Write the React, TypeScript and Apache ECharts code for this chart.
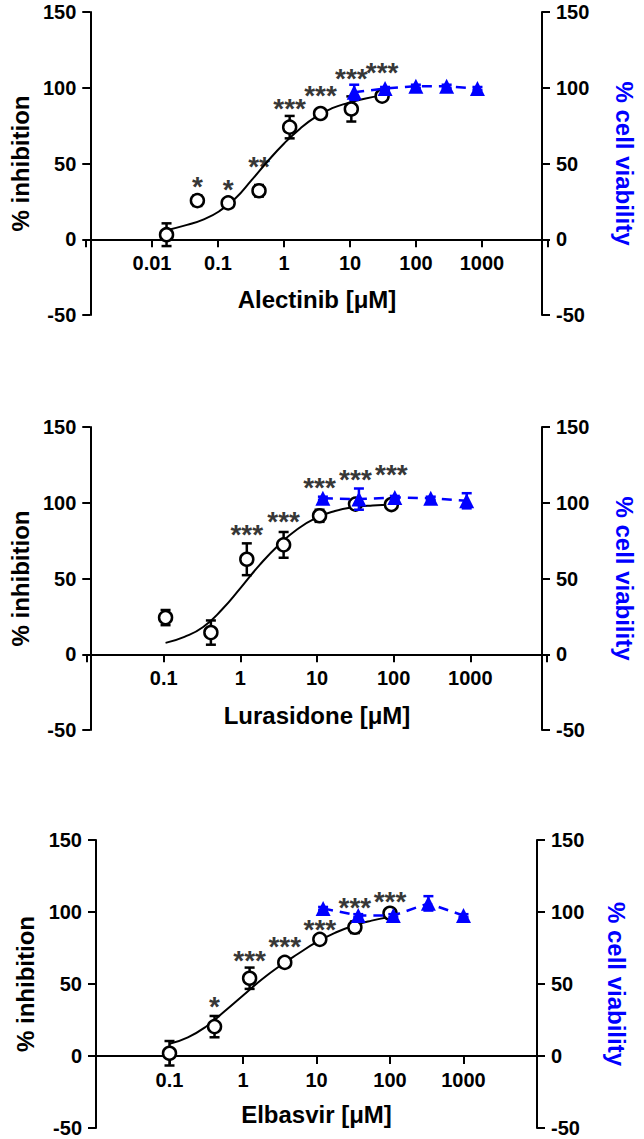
import React, { useEffect, useRef } from "react";
import * as echarts from "echarts";

// ---------- Alectinib ----------
const alectinibConc = [0.0152, 0.0457, 0.137, 0.412, 1.23, 3.7, 11.1, 33.3];
const alectinibInhibition = [3, 25.5, 24, 32, 74, 83, 86, 94.5];
const alectinibInhibitionErr = [7.5, 3.5, 2, 3.8, 7.4, 2, 8.3, 2];
const alectinibStars = ["", "*", "*", "**", "***", "***", "***", "***"];
const alectinibStarLevel = [0, 39.5, 37.5, 52.8, 91, 99.6, 111, 114.8];
const alectinibViabilityConc = [12.3, 37, 111, 333, 1000];
const alectinibViability = [97, 99.5, 101, 101, 99.5];
const alectinibViabilityErr = [5, 1, 1, 1, 1];
const alectinibFitConc = [0.0152, 0.0316, 0.0562, 0.1, 0.178, 0.316, 0.562, 1, 1.78, 3.16, 5.62, 10, 17.8, 33.3];
const alectinibFitValue = [6, 9.5, 13, 18.5, 27, 39, 51.5, 63, 73, 81, 86.5, 90, 92.8, 94.8];
const alectinibTicks = ["0.01", "0.1", "1", "10", "100", "1000"];

// ---------- Lurasidone ----------
const lurasidoneConc = [0.1, 0.4, 1.2, 3.7, 11.1, 33.3, 100];
const lurasidoneInhibition = [24.2, 14.3, 62.7, 72.2, 91.4, 99.1, 98.8];
const lurasidoneInhibitionErr = [5, 8, 10.5, 8.5, 4, 1.5, 1.5];
const lurasidoneStars = ["", "", "***", "***", "***", "***", "***"];
const lurasidoneStarLevel = [0, 0, 83.7, 92.5, 114.5, 120, 123];
const lurasidoneViabilityConc = [12.3, 37, 111, 333, 1000];
const lurasidoneViability = [103, 102.4, 103.5, 103, 101.3];
const lurasidoneViabilityErr = [1, 7, 1, 1, 5];
const lurasidoneFitConc = [0.1, 0.178, 0.316, 0.562, 1, 1.78, 3.16, 5.62, 10, 17.8, 31.6, 56.2, 100];
const lurasidoneFitValue = [7.5, 11.5, 18, 29.5, 44, 59, 72, 82.5, 90, 94.5, 97, 98.2, 98.7];
const lurasidoneTicks = ["0.1", "1", "10", "100", "1000"];

// ---------- Elbasvir ----------
const elbasvirConc = [0.1, 0.41, 1.23, 3.7, 11.1, 33.3, 100];
const elbasvirInhibition = [1.9, 20.4, 54, 65, 81, 89.4, 99.1];
const elbasvirInhibitionErr = [8.5, 7.4, 7.4, 1.5, 1.5, 4, 1];
const elbasvirStars = ["", "*", "***", "***", "***", "***", "***"];
const elbasvirStarLevel = [0, 38.9, 71.3, 81, 92.6, 108.3, 112.5];
const elbasvirViabilityConc = [12.3, 37, 111, 333, 1000];
const elbasvirViability = [102.5, 97.5, 97.5, 106, 97.5];
const elbasvirViabilityErr = [1, 1, 1, 5, 1];
const elbasvirFitConc = [0.1, 0.178, 0.316, 0.562, 1, 1.78, 3.16, 5.62, 10, 17.8, 31.6, 56.2, 100];
const elbasvirFitValue = [8.5, 13, 20.5, 31, 42, 53, 62.5, 71, 79, 85.5, 90.5, 94, 96.5];
const elbasvirTicks = ["0.1", "1", "10", "100", "1000"];

const xNames = ["Alectinib [μM]", "Lurasidone [μM]", "Elbasvir [μM]"];
const leftName = "% inhibition";
const rightName = "% cell viability";

const FONT = "'Liberation Sans', Arial, Helvetica, sans-serif";
const BLUE = "#0000ff";

const panels = [
  {
    conc: alectinibConc, inhib: alectinibInhibition, err: alectinibInhibitionErr,
    stars: alectinibStars, starLevel: alectinibStarLevel,
    vConc: alectinibViabilityConc, viab: alectinibViability, vErr: alectinibViabilityErr,
    fitConc: alectinibFitConc, fitValue: alectinibFitValue, ticks: alectinibTicks,
    xMin: 0.001, xMax: 10000,
    box: { left: 86, top: 12, width: 462, height: 303 },
    xGap: 48, lGap: 58, rGap: 70,
  },
  {
    conc: lurasidoneConc, inhib: lurasidoneInhibition, err: lurasidoneInhibitionErr,
    stars: lurasidoneStars, starLevel: lurasidoneStarLevel,
    vConc: lurasidoneViabilityConc, viab: lurasidoneViability, vErr: lurasidoneViabilityErr,
    fitConc: lurasidoneFitConc, fitValue: lurasidoneFitValue, ticks: lurasidoneTicks,
    xMin: 0.01, xMax: 10000,
    box: { left: 87, top: 427, width: 460, height: 303 },
    xGap: 49, lGap: 57, rGap: 70,
  },
  {
    conc: elbasvirConc, inhib: elbasvirInhibition, err: elbasvirInhibitionErr,
    stars: elbasvirStars, starLevel: elbasvirStarLevel,
    vConc: elbasvirViabilityConc, viab: elbasvirViability, vErr: elbasvirViabilityErr,
    fitConc: elbasvirFitConc, fitValue: elbasvirFitValue, ticks: elbasvirTicks,
    xMin: 0.01, xMax: 10000,
    box: { left: 96, top: 840, width: 441, height: 288 },
    xGap: 46, lGap: 51, rGap: 67,
  },
];

const Y_MIN = -50;
const Y_MAX = 150;

function decadeLabel(v: number) {
  const e = Math.round(Math.log10(v));
  return e < 0 ? Math.pow(10, e).toFixed(-e) : String(Math.pow(10, e));
}

const errorBar = (color: string) => (params: any, api: any) => {
  const x = api.value(0);
  const y = api.value(1);
  const e = api.value(2);
  const hi = api.coord([x, y + e]);
  const lo = api.coord([x, y - e]);
  const w = 5;
  const style = { stroke: color, lineWidth: 2.5, fill: "none" };
  return {
    type: "group",
    children: [
      { type: "line", shape: { x1: hi[0], y1: hi[1], x2: lo[0], y2: lo[1] }, style },
      { type: "line", shape: { x1: hi[0] - w, y1: hi[1], x2: hi[0] + w, y2: hi[1] }, style },
      { type: "line", shape: { x1: lo[0] - w, y1: lo[1], x2: lo[0] + w, y2: lo[1] }, style },
    ],
  };
};

function buildOption() {
  const grid: any[] = [];
  const xAxis: any[] = [];
  const yAxis: any[] = [];
  const series: any[] = [];
  const tickLabelStyle = { fontSize: 20, fontWeight: "bold", color: "#000", fontFamily: FONT };
  const nameStyle = { fontSize: 24, fontWeight: "bold", color: "#000", fontFamily: FONT };
  const lineStyle = { color: "#000", width: 2 };
  const tick = { show: true, length: 8, lineStyle: { width: 2, color: "#000" } };

  panels.forEach((p, i) => {
    const b = p.box;
    // main grid: full y range (-50..150)
    grid.push({ left: b.left, top: b.top, width: b.width, height: b.height });
    // upper grid: 0..150, its bottom edge is the zero line where the x axis sits
    grid.push({
      left: b.left,
      top: b.top,
      width: b.width,
      height: (b.height * Y_MAX) / (Y_MAX - Y_MIN),
    });

    const gMain = 2 * i;
    const gZero = 2 * i + 1;

    // hidden data x axis
    xAxis.push({
      type: "log",
      logBase: 10,
      gridIndex: gMain,
      min: p.xMin,
      max: p.xMax,
      show: false,
    });
    // visible x axis at y = 0
    xAxis.push({
      type: "log",
      logBase: 10,
      gridIndex: gZero,
      position: "bottom",
      min: p.xMin,
      max: p.xMax,
      splitNumber: Math.round(Math.log10(p.xMax / p.xMin)),
      name: xNames[i],
      nameLocation: "middle",
      nameGap: p.xGap,
      nameTextStyle: nameStyle,
      axisLine: { show: true, onZero: false, lineStyle },
      axisTick: tick,
      minorTick: { show: false },
      splitLine: { show: false },
      axisLabel: {
        ...tickLabelStyle,
        margin: 14,
        showMinLabel: true,
        showMaxLabel: true,
        formatter: (v: number) => {
          const s = decadeLabel(v);
          return p.ticks.includes(s) ? s : "";
        },
      },
    });

    const yCommon = {
      type: "value",
      gridIndex: gMain,
      min: Y_MIN,
      max: Y_MAX,
      interval: 50,
      nameLocation: "middle",
      axisLine: { show: true, onZero: false, lineStyle },
      axisTick: tick,
      splitLine: { show: false },
      axisLabel: { ...tickLabelStyle, margin: 14 },
    };
    yAxis.push({
      ...yCommon,
      position: "left",
      name: leftName,
      nameRotate: 90,
      nameGap: p.lGap,
      nameTextStyle: nameStyle,
    });
    yAxis.push({
      ...yCommon,
      position: "right",
      name: rightName,
      nameRotate: -90,
      nameGap: p.rGap,
      nameTextStyle: { ...nameStyle, color: BLUE },
    });
    yAxis.push({
      type: "value",
      gridIndex: gZero,
      min: 0,
      max: Y_MAX,
      show: false,
    });

    const xi = 2 * i;
    const yl = 3 * i;
    const yr = 3 * i + 1;

    series.push({
      type: "custom",
      xAxisIndex: xi,
      yAxisIndex: yl,
      renderItem: errorBar("#000"),
      encode: { x: 0, y: 1 },
      data: p.conc.map((c, k) => [c, p.inhib[k], p.err[k]]),
      z: 2,
      silent: true,
    });
    series.push({
      type: "line",
      xAxisIndex: xi,
      yAxisIndex: yl,
      data: p.fitConc.map((c, k) => [c, p.fitValue[k]]),
      smooth: 0.5,
      showSymbol: false,
      symbol: "none",
      lineStyle: { color: "#000", width: 2 },
      z: 3,
      silent: true,
    });
    series.push({
      type: "scatter",
      xAxisIndex: xi,
      yAxisIndex: yl,
      data: p.conc.map((c, k) => [c, p.inhib[k]]),
      symbol: "circle",
      symbolSize: 13,
      itemStyle: { color: "#fff", borderColor: "#000", borderWidth: 2.5, opacity: 1 },
      z: 4,
      silent: true,
    });
    series.push({
      type: "custom",
      xAxisIndex: xi,
      yAxisIndex: yr,
      renderItem: errorBar(BLUE),
      encode: { x: 0, y: 1 },
      data: p.vConc.map((c, k) => [c, p.viab[k], p.vErr[k]]),
      z: 5,
      silent: true,
    });
    series.push({
      type: "line",
      xAxisIndex: xi,
      yAxisIndex: yr,
      data: p.vConc.map((c, k) => [c, p.viab[k]]),
      symbol: "triangle",
      symbolSize: 15,
      showSymbol: true,
      itemStyle: { color: BLUE },
      lineStyle: { color: BLUE, width: 2.5, type: [10, 7] },
      z: 6,
      silent: true,
    });
    series.push({
      type: "scatter",
      xAxisIndex: xi,
      yAxisIndex: yl,
      data: p.conc
        .map((c, k) => (p.stars[k] ? { name: p.stars[k], value: [c, p.starLevel[k]] } : null))
        .filter(Boolean),
      symbolSize: 1,
      itemStyle: { color: "rgba(0,0,0,0)" },
      label: {
        show: true,
        position: "inside",
        formatter: "{b}",
        fontSize: 28,
        fontWeight: "bold",
        color: "#000",
        fontFamily: FONT,
        offset: [0, 7],
      },
      z: 7,
      silent: true,
    });
  });

  return {
    animation: false,
    backgroundColor: "#fff",
    grid,
    xAxis,
    yAxis,
    series,
  };
}

export default function App() {
  const ref = useRef<HTMLDivElement>(null);
  useEffect(() => {
    if (!ref.current) return;
    const chart = echarts.init(ref.current, undefined, { renderer: "svg" });
    chart.setOption(buildOption() as any);
    return () => chart.dispose();
  }, []);
  return (
    <div
      ref={ref}
      style={{ position: "absolute", left: 0, top: 0, width: 644, height: 1139, background: "#fff" }}
    />
  );
}
